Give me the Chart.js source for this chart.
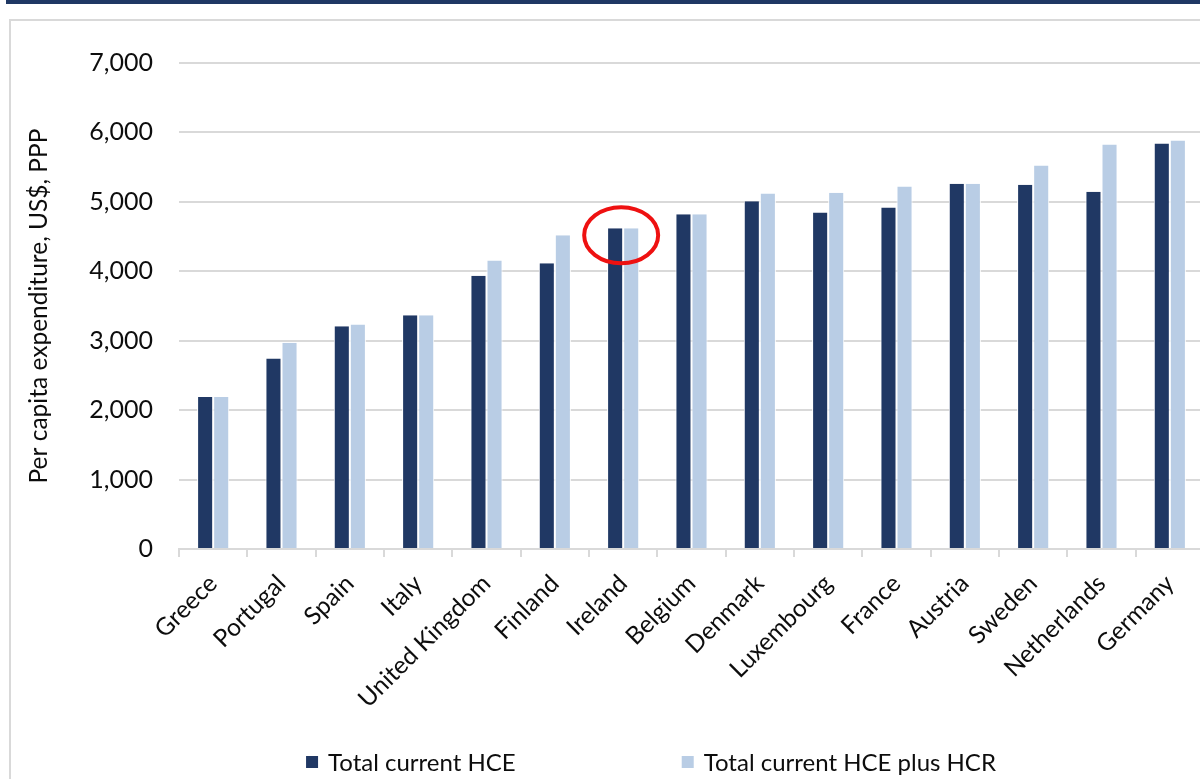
<!DOCTYPE html>
<html>
<head>
<meta charset="utf-8">
<script src="https://cdn.jsdelivr.net/npm/chart.js@4.4.1/dist/chart.umd.min.js"></script>
<style>
  html, body { margin: 0; padding: 0; background: #fff; overflow: hidden; width: 1200px; height: 779px; }
  #band { position: absolute; left: 6px; top: 0; width: 1194px; height: 4px; background: #1f3864; }
  #frame { position: absolute; left: 9px; top: 19px; width: 1300px; height: 820px; border: 2px solid #d9d9d9; box-sizing: border-box; }
  #c { position: absolute; left: 10px; top: 20px; }
</style>
</head>
<body>
<div id="band"></div>
<div id="frame"></div>
<canvas id="c" width="1282" height="759"></canvas>
<script>
const countries = ['Greece', 'Portugal', 'Spain', 'Italy', 'United Kingdom', 'Finland', 'Ireland',
  'Belgium', 'Denmark', 'Luxembourg', 'France', 'Austria', 'Sweden', 'Netherlands', 'Germany'];
const totalHce = [2190, 2745, 3210, 3365, 3935, 4115, 4620, 4820, 5010, 4845, 4920, 5260, 5245, 5145, 5840];
const totalHcePlusHcr = [2190, 2970, 3235, 3365, 4155, 4520, 4620, 4820, 5120, 5130, 5220, 5260, 5525, 5825, 5885];
const seriesNames = ['Total current HCE', 'Total current HCE plus HCR'];
const highlighted = ['Ireland'];
const yTicks = [0, 1000, 2000, 3000, 4000, 5000, 6000, 7000];

const darkBlue = '#203864';
const lightBlue = '#b9cde5';
const gridGray = '#d9d9d9';
const textColor = '#0d0d0d';
const fontFamily = 'Lato, "Open Sans", sans-serif';

// legend with a wide gap between the two entries, like the original
const spacedLegend = {
  id: 'spacedLegend',
  afterDraw(chart) {
    const ctx = chart.ctx;
    const box = 12, textGap = 10, itemGap = 166;
    ctx.save();
    ctx.font = '24px ' + fontFamily;
    const items = chart.data.datasets.map(ds => ({
      text: ds.label, color: ds.backgroundColor, w: ctx.measureText(ds.label).width
    }));
    let total = 0;
    items.forEach((it, i) => { total += box + textGap + it.w + (i ? itemGap : 0); });
    let x = chart.width / 2 - total / 2;
    const y = 742;
    items.forEach(it => {
      ctx.fillStyle = it.color;
      ctx.fillRect(x, y - box / 2, box, box);
      ctx.fillStyle = textColor;
      ctx.textBaseline = 'middle';
      ctx.textAlign = 'left';
      ctx.fillText(it.text, x + box + textGap, y + 1);
      x += box + textGap + it.w + itemGap;
    });
    ctx.restore();
  }
};

// red ring around highlighted categories
const ringPlugin = {
  id: 'ring',
  afterDatasetsDraw(chart) {
    const ctx = chart.ctx;
    const xs = chart.scales.x, ys = chart.scales.y;
    ctx.save();
    ctx.strokeStyle = '#ee1111';
    ctx.lineWidth = 4;
    highlighted.forEach(name => {
      const i = countries.indexOf(name);
      const v = Math.max(totalHce[i], totalHcePlusHcr[i]);
      const cx = xs.getPixelForValue(i) - 2;
      const cy = ys.getPixelForValue(v) + 7;
      ctx.beginPath();
      ctx.ellipse(cx, cy, 37, 28, 0, 0, Math.PI * 2);
      ctx.stroke();
    });
    ctx.restore();
  }
};

new Chart(document.getElementById('c'), {
  type: 'bar',
  data: {
    labels: countries,
    datasets: [
      { label: seriesNames[0], data: totalHce, backgroundColor: darkBlue,
        borderColor: '#ffffff', borderWidth: { left: 1, right: 1, top: 0, bottom: 0 } },
      { label: seriesNames[1], data: totalHcePlusHcr, backgroundColor: lightBlue,
        borderColor: '#ffffff', borderWidth: { left: 1, right: 1, top: 0, bottom: 0 } }
    ]
  },
  options: {
    responsive: false,
    animation: false,
    layout: { padding: { left: 10, top: 43, right: 88, bottom: 0 } },
    datasets: { bar: { categoryPercentage: 0.47, barPercentage: 1.0 } },
    plugins: {
      legend: { display: false },
      tooltip: { enabled: false }
    },
    scales: {
      x: {
        afterFit: s => { s.height = 230; },
        grid: { drawOnChartArea: false, drawTicks: true, tickLength: 8, color: gridGray, lineWidth: 2 },
        border: { display: true, color: gridGray, width: 2 },
        ticks: {
          autoSkip: false, maxRotation: 45, minRotation: 45, padding: 12,
          color: textColor, font: { family: fontFamily, size: 24.5 }
        }
      },
      y: {
        min: 0, max: 7000,
        afterFit: s => { s.width = 159; },
        afterBuildTicks: s => { s.ticks = yTicks.map(v => ({ value: v })); },
        grid: { color: gridGray, lineWidth: 2, drawTicks: false },
        border: { display: false },
        ticks: {
          padding: 26, color: textColor, font: { family: fontFamily, size: 25 },
          callback: v => v.toLocaleString('en-US')
        },
        title: {
          display: true, text: 'Per capita expenditure, US$, PPP', color: textColor,
          font: { family: fontFamily, size: 24.5 }, padding: { top: 4, bottom: 0 }
        }
      }
    }
  },
  plugins: [spacedLegend, ringPlugin]
});
</script>
</body>
</html>
